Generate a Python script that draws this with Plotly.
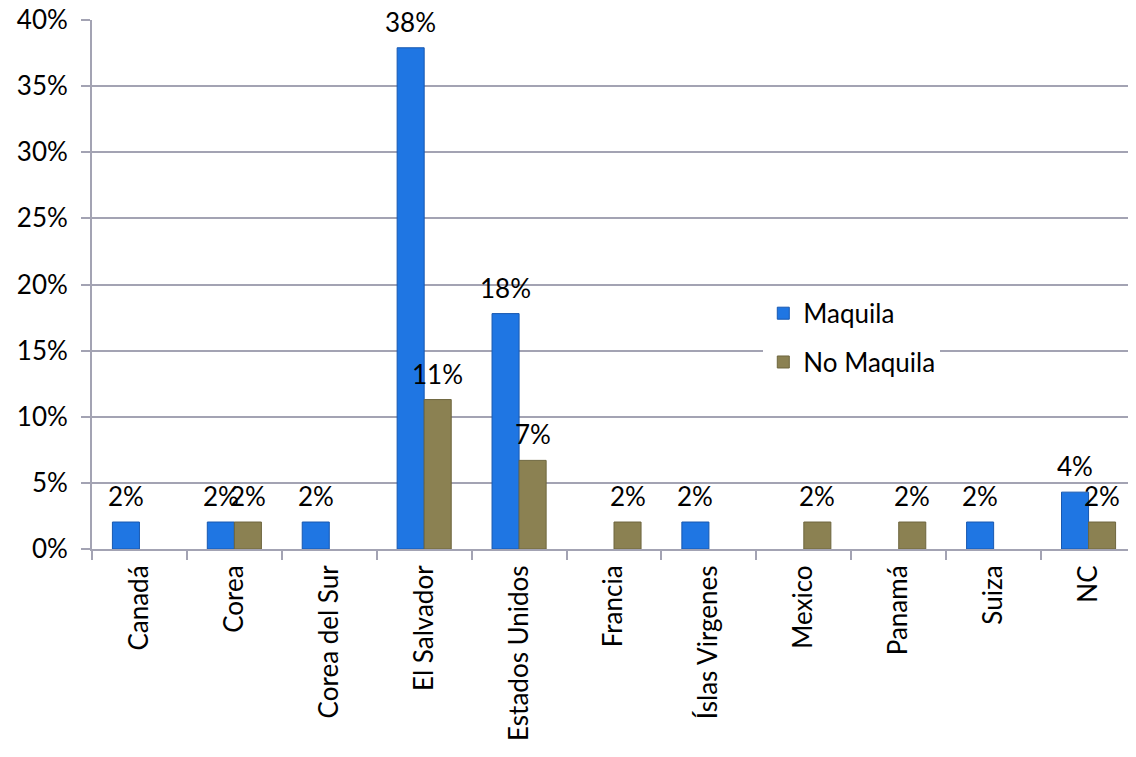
import plotly.graph_objects as go

categories = ["Canadá", "Corea", "Corea del Sur", "El Salvador", "Estados Unidos",
              "Francia", "Íslas Virgenes", "Mexico", "Panamá", "Suiza", "NC"]
maquila = [2.04, 2.04, 2.04, 37.9, 17.8, None, 2.04, None, None, 2.04, 4.3]
no_maquila = [None, 2.04, None, 11.3, 6.7, 2.04, None, 2.04, 2.04, None, 2.04]
maquila_labels = ["2%", "2%", "2%", "38%", "18%", "", "2%", "", "", "2%", "4%"]
no_maquila_labels = ["", "2%", "", "11%", "7%", "2%", "", "2%", "2%", "", "2%"]
y_ticks = [0, 5, 10, 15, 20, 25, 30, 35, 40]
y_tick_text = ["0%", "5%", "10%", "15%", "20%", "25%", "30%", "35%", "40%"]

FONT = "Lato"
FS = 26
BLUE = "#1F76E3"
OLIVE = "#8B8152"

fig = go.Figure()
fig.add_trace(go.Bar(x=categories, y=maquila, name="Maquila",
                     marker=dict(color=BLUE, line=dict(color="#1858B0", width=1)),
                     legendgroup="a"))
fig.add_trace(go.Bar(x=categories, y=no_maquila, name="No Maquila",
                     marker=dict(color=OLIVE, line=dict(color="#6E663E", width=1)),
                     legendgroup="b"))

half = 13.6
for cat, v, t in zip(categories, maquila, maquila_labels):
    if v is not None and t:
        fig.add_annotation(x=cat, y=v, text=t, showarrow=False, xshift=-half, yshift=26,
                           font=dict(family=FONT, size=FS, color="black"))
for cat, v, t in zip(categories, no_maquila, no_maquila_labels):
    if v is not None and t:
        fig.add_annotation(x=cat, y=v, text=t, showarrow=False, xshift=half, yshift=26,
                           font=dict(family=FONT, size=FS, color="black"))

fig.update_layout(
    width=1136, height=757,
    margin=dict(l=84, r=8, t=12, b=216, autoexpand=False),
    paper_bgcolor="white", plot_bgcolor="white",
    barmode="group", bargap=0.43, bargroupgap=0,
    font=dict(family=FONT, size=FS, color="black"),
    legend=dict(x=0.643, y=0.49, xanchor="left", yanchor="top",
                bgcolor="white", font=dict(family=FONT, size=FS),
                traceorder="grouped", tracegroupgap=12,
                borderwidth=0),
    showlegend=True,
)
fig.update_xaxes(type="category", tickangle=-90, showline=True, linecolor="#A3A3B3",
                 linewidth=2, ticks="outside", tickson="boundaries", ticklen=9,
                 tickcolor="#A3A3B3", tickwidth=2, showgrid=False,
                 ticklabelstandoff=4, automargin=False,
                 tickfont=dict(family=FONT, size=FS))
fig.update_yaxes(range=[0, 40], tickvals=y_ticks, ticktext=y_tick_text,
                 showline=True, linecolor="#A3A3B3", linewidth=2,
                 ticks="outside", ticklen=9, tickcolor="#A3A3B3", tickwidth=2,
                 showgrid=True, gridcolor="#A3A3B3", gridwidth=2,
                 ticklabeloverflow="allow", ticklabelstandoff=8, automargin=False,
                 zeroline=False, tickfont=dict(family=FONT, size=FS))

fig.write_html("out.html")
